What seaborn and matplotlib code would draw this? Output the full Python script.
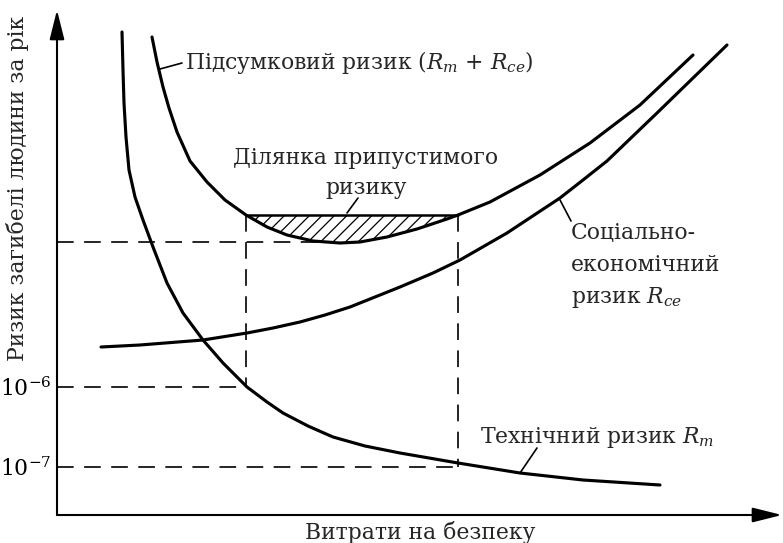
import numpy as np
import pandas as pd
import matplotlib
matplotlib.use("Agg")
import matplotlib.pyplot as plt
import seaborn as sns

# curve points (x = cost of safety, y = risk, schematic units)
tech_x = [65, 66, 67, 69, 72, 78, 86, 96, 110, 126, 146, 166, 190, 210, 226, 251, 276, 308,
          343, 372, 401, 463, 526, 603]
tech_y = [483, 445, 412, 378, 345, 318, 295, 268, 232, 202, 175, 152, 128, 113, 102, 89, 78,
          69, 62, 57, 52, 42, 35, 30]

socio_x = [44, 83, 146, 190, 216, 243, 268, 293, 313, 343, 376, 403, 450, 503, 526, 550, 575,
           600, 635, 670]
socio_y = [168, 170, 175, 182, 187, 193, 200, 208, 216, 228, 242, 255, 282, 317, 335, 354, 378,
           402, 436, 470]

total_x = [95, 100, 106, 112, 120, 133, 150, 168, 189, 210, 230, 256, 283, 303, 330, 360,
           390, 401, 433, 483, 533, 583, 636]
total_y = [478, 453, 428, 407, 383, 354, 333, 315, 300, 288, 280, 274, 272, 273, 278, 286,
           296, 300, 313, 340, 372, 410, 460]

# acceptable risk zone and guide levels
accept_level = 300
accept_x = [189, 401]
min_level = 273
min_x = 273
level_1e6 = 128
level_1e7 = 48
tick_values = [level_1e7, level_1e6]
tick_labels = [r'$10^{-7}$', r'$10^{-6}$']

# leader lines from labels to curves
leaders = [
    ([103, 125], [446, 452]),
    ([290, 301], [302, 317]),
    ([503, 514], [315, 294]),
    ([463, 480], [42, 67]),
]

sns.set_theme(style="white")
plt.rcParams['font.family'] = ['DejaVu Serif']
plt.rcParams['mathtext.fontset'] = 'dejavuserif'
plt.rcParams['hatch.linewidth'] = 0.6
plt.rcParams['lines.scale_dashes'] = False

fig = plt.figure(figsize=(783 / 150, 543 / 150), dpi=150)
ax = fig.add_axes([57 / 783, 28 / 543, 725 / 783, 505 / 543])

for xs, ys in [(tech_x, tech_y), (socio_x, socio_y), (total_x, total_y)]:
    sns.lineplot(x=xs, y=ys, sort=False, estimator=None, color='black', lw=1.5, ax=ax)

tx = np.array(total_x)
ty = np.array(total_y)
ax.fill_between(tx, ty, accept_level, where=ty <= accept_level, interpolate=True,
                facecolor='none', edgecolor='black', hatch='////', linewidth=0)
ax.plot(accept_x, [accept_level, accept_level], color='black', lw=1.2)

dash = dict(color='black', lw=0.8, linestyle=(0, (8, 5)))
ax.plot([0, min_x], [min_level, min_level], **dash)
ax.plot([accept_x[0], accept_x[0]], [accept_level, level_1e6], **dash)
ax.plot([0, accept_x[0]], [level_1e6, level_1e6], **dash)
ax.plot([accept_x[1], accept_x[1]], [accept_level, level_1e7], **dash)
ax.plot([0, accept_x[1]], [level_1e7, level_1e7], **dash)

for lx, ly in leaders:
    ax.plot(lx, ly, color='black', lw=0.8)

ax.set_xlim(0, 725)
ax.set_ylim(0, 505)
for s in ax.spines.values():
    s.set_visible(False)
ax.set_xticks([])
ax.set_yticks(tick_values, tick_labels)
ax.tick_params(axis='y', length=0, pad=2.5, labelsize=10.5, labelcolor='black')

arrow = dict(arrowstyle='-|>,head_length=0.6,head_width=0.15', color='black', lw=1.0,
             shrinkA=0, shrinkB=0, mutation_scale=20)
ax.annotate('', xy=(1, 0), xytext=(0, 0), xycoords='axes fraction', arrowprops=arrow)
ax.annotate('', xy=(0, 1), xytext=(0, 0), xycoords='axes fraction', arrowprops=arrow)

fs = 10.5
ax.text(128, 453, r'Підсумковий ризик ($R_m$ + $R_{ce}$)', fontsize=fs, ha='left', va='center')
ax.text(309, 357, 'Ділянка припустимого', fontsize=fs, ha='center', va='center')
ax.text(309, 327, 'ризику', fontsize=fs, ha='center', va='center')
ax.text(514, 282, 'Соціально-', fontsize=fs, ha='left', va='center')
ax.text(514, 250, 'економічний', fontsize=fs, ha='left', va='center')
ax.text(514, 218, r'ризик $R_{ce}$', fontsize=fs, ha='left', va='center')
ax.text(423, 78, r'Технічний ризик $R_m$', fontsize=fs, ha='left', va='center')
ax.text(363, -17, 'Витрати на безпеку', fontsize=fs, ha='center', va='center', clip_on=False)
ax.text(-39, 327, 'Ризик загибелі людини за рік', fontsize=fs, rotation=90,
        ha='center', va='center', clip_on=False)

fig.savefig('out.png', dpi=150, facecolor='white')
